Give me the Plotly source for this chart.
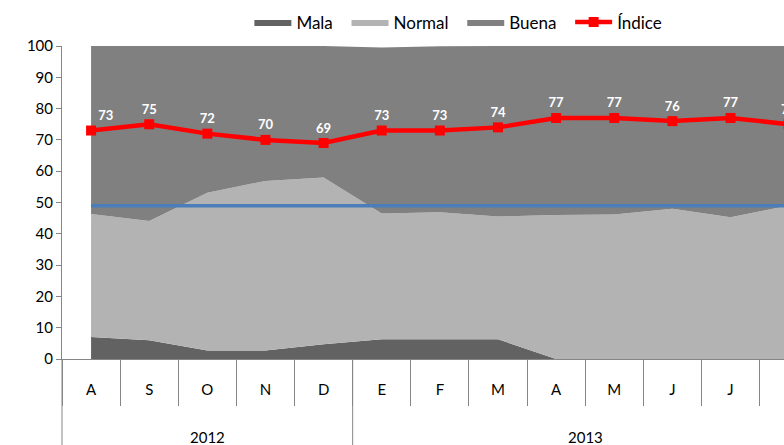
import plotly.graph_objects as go

months = ["A", "S", "O", "N", "D", "E", "F", "M", "A", "M", "J", "J", "A"]
years = ["2012"] * 5 + ["2013"] * 8
mala = [7.0, 6.0, 2.7, 2.7, 4.7, 6.3, 6.3, 6.3, 0, 0, 0, 0, 0]
normal = [39.3, 38.1, 50.4, 54.2, 53.3, 40.2, 40.6, 39.2, 46.0, 46.2, 48.0, 45.3, 49.0]
buena = [53.7, 55.9, 46.9, 43.1, 42.0, 53.0, 53.0, 54.5, 54.0, 53.8, 52.0, 54.7, 51.0]
indice = [73, 75, 72, 70, 69, 73, 73, 74, 77, 77, 76, 77, 75]
referencia = [49] * 13

cats = [f"{m}-{y}-{i}" for i, (m, y) in enumerate(zip(months, years))]

FONT = "Lato, 'Open Sans', sans-serif"
AXIS = "#868686"
PAD = "\u00a0\u00a0"

fig = go.Figure()
fig.add_trace(go.Scatter(x=cats, y=mala, name="Mala" + PAD, stackgroup="s", mode="lines",
                         line=dict(width=0, color="#626262"), fillcolor="#626262"))
fig.add_trace(go.Scatter(x=cats, y=normal, name="Normal" + PAD, stackgroup="s", mode="lines",
                         line=dict(width=0, color="#B3B3B3"), fillcolor="#B3B3B3"))
fig.add_trace(go.Scatter(x=cats, y=buena, name="Buena" + PAD, stackgroup="s", mode="lines",
                         line=dict(width=0, color="#808080"), fillcolor="#808080"))
fig.add_trace(go.Scatter(x=cats, y=referencia, mode="lines", showlegend=False,
                         line=dict(width=3.5, color="#4A7EBB"), hoverinfo="skip"))
positions = ["top right"] + ["top center"] * (len(indice) - 1)
fig.add_trace(go.Scatter(x=cats, y=indice, name="Índice", mode="lines+markers+text",
                         line=dict(width=4.5, color="#FF0000"),
                         marker=dict(symbol="square", size=10, color="#FF0000"),
                         text=[str(v) for v in indice], textposition=positions,
                         textfont=dict(family=FONT, size=13, color="white", weight="bold")))

# year separators and labels
groups = []
for i, y in enumerate(years):
    if not groups or groups[-1][0] != y:
        groups.append([y, i, i])
    else:
        groups[-1][2] = i

shapes = [dict(type="line", xref="paper", yref="paper", x0=0, x1=0, y0=0, y1=-0.3,
               line=dict(color=AXIS, width=1))]
annotations = []
for g, (y, a, b) in enumerate(groups):
    if g > 0:
        shapes.append(dict(type="line", xref="x", yref="paper", x0=a - 0.5, x1=a - 0.5,
                           y0=0, y1=-0.3, line=dict(color=AXIS, width=1)))
    annotations.append(dict(x=(a + b) / 2, y=-0.249, xref="x", yref="paper", text=y,
                            showarrow=False, font=dict(family=FONT, size=15, color="black"),
                            yanchor="middle"))

fig.update_layout(
    width=784, height=445,
    margin=dict(l=62, r=0, t=46, b=86),
    paper_bgcolor="white", plot_bgcolor="white",
    font=dict(family=FONT, size=15, color="black"),
    showlegend=True,
    legend=dict(orientation="h", x=0.549, xanchor="center", y=1.075, yanchor="middle",
                itemwidth=37,
                font=dict(family=FONT, size=17, color="black"), traceorder="normal"),
    shapes=shapes, annotations=annotations,
)
fig.update_xaxes(type="category", categoryarray=cats, range=[-0.5, 11.92],
                 tickmode="array", tickvals=cats, ticktext=months,
                 tickson="boundaries", ticks="outside", ticklen=46, tickcolor=AXIS,
                 ticklabelstandoff=17,
                 showline=True, linecolor=AXIS, linewidth=1, showgrid=False, zeroline=False,
                 tickfont=dict(family=FONT, size=15, color="black"))
fig.update_yaxes(range=[0, 100], tickmode="array", tickvals=list(range(0, 101, 10)),
                 ticks="outside", ticklen=5, tickcolor=AXIS, showline=True, linecolor=AXIS,
                 linewidth=1, showgrid=False, zeroline=False,
                 tickfont=dict(family=FONT, size=15, color="black"))

fig.write_html("out.html", config={"displayModeBar": False},
               post_script="document.body.style.margin='0';document.body.style.overflow='hidden';")
